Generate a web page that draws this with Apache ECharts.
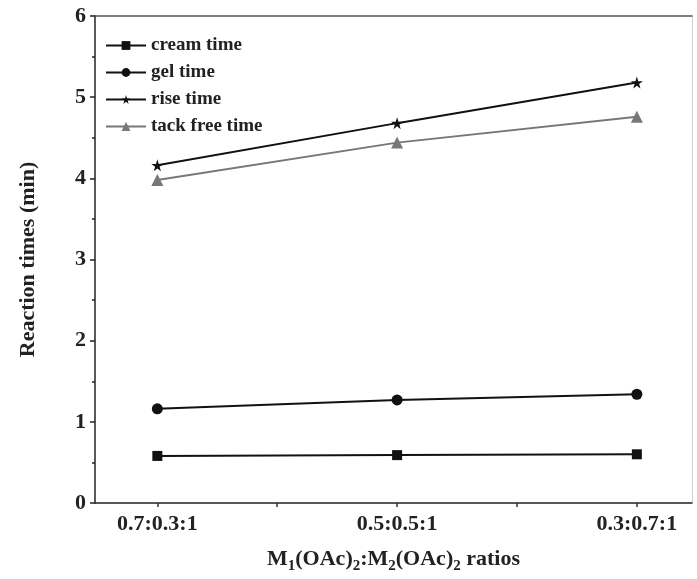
<!DOCTYPE html>
<html>
<head>
<meta charset="utf-8">
<script src="https://cdn.jsdelivr.net/npm/echarts@6/dist/echarts.min.js"></script>
<style>
  html, body { margin: 0; padding: 0; background: #fff; }
  #main { width: 697px; height: 579px; }
</style>
</head>
<body>
<div id="main"></div>
<script>
var ratios = ['0.7:0.3:1', '0.5:0.5:1', '0.3:0.7:1'];
var creamTime = [0.58, 0.59, 0.60];
var gelTime = [1.16, 1.27, 1.34];
var riseTime = [4.16, 4.68, 5.18];
var tackFreeTime = [3.98, 4.44, 4.76];

var star = 'path://M50,0 L61,35 L98,35 L68,57 L79,91 L50,70 L21,91 L32,57 L2,35 L39,35 Z';
var font = '"Liberation Serif", "Times New Roman", serif';

function pts(arr) {
  return arr.map(function (v, i) { return [i, v]; });
}

var chart = echarts.init(document.getElementById('main'));

var option = {
  backgroundColor: '#fff',
  animation: false,
  grid: { left: 95, right: 5, top: 16, bottom: 74 },
  legend: {
    orient: 'vertical',
    left: 100,
    top: 31,
    itemWidth: 40,
    itemHeight: 11,
    itemGap: 8,
    textStyle: { fontFamily: font, fontWeight: 'bold', fontSize: 19, color: '#222' },
    data: ['cream time', 'gel time', 'rise time', 'tack free time']
  },
  xAxis: [{
    type: 'value',
    min: -0.26,
    max: 2.23,
    splitLine: { show: false },
    axisLine: { onZero: false, lineStyle: { color: '#222', width: 1.5 } },
    axisTick: { customValues: [0, 0.5, 1, 1.5, 2], length: 4, lineStyle: { color: '#333', width: 1.5 } },
    axisLabel: {
      customValues: [0, 1, 2],
      formatter: function (v) { return ratios[Math.round(v)]; },
      fontFamily: font, fontWeight: 'bold', fontSize: 22, color: '#222', margin: 10
    },
    name: '{n|M}{s|1}{n|(OAc)}{s|2}{n|:M}{s|2}{n|(OAc)}{s|2}{n| ratios}',
    nameLocation: 'middle',
    nameGap: 42,
    nameTextStyle: {
      rich: {
        n: { fontFamily: font, fontWeight: 'bold', fontSize: 22, color: '#222' },
        s: { fontFamily: font, fontWeight: 'bold', fontSize: 15, color: '#222', padding: [14, 0, 0, 0] }
      }
    }
  }, {
    type: 'value',
    position: 'top',
    min: -0.26,
    max: 2.23,
    splitLine: { show: false },
    axisLine: { onZero: false, lineStyle: { color: '#555', width: 1.5 } },
    axisTick: { show: false },
    axisLabel: { show: false }
  }],
  yAxis: [{
    type: 'value',
    min: 0,
    max: 6,
    interval: 1,
    splitLine: { show: false },
    axisLine: { show: true, onZero: false, lineStyle: { color: '#222', width: 1.5 } },
    axisTick: { show: true, length: 5, lineStyle: { color: '#222', width: 1.5 } },
    minorTick: { show: true, splitNumber: 2, length: 3, lineStyle: { color: '#222', width: 1.5 } },
    axisLabel: { fontFamily: font, fontWeight: 'bold', fontSize: 22, color: '#222', margin: 9 },
    name: 'Reaction times (min)',
    nameLocation: 'middle',
    nameGap: 56,
    nameTextStyle: { fontFamily: font, fontWeight: 'bold', fontSize: 22, color: '#222' }
  }, {
    type: 'value',
    position: 'right',
    min: 0,
    max: 6,
    splitLine: { show: false },
    axisLine: { show: true, onZero: false, lineStyle: { color: '#d0d0d0', width: 1 } },
    axisTick: { show: false },
    axisLabel: { show: false }
  }],
  series: [{
    name: 'cream time',
    type: 'line',
    data: pts(creamTime),
    symbol: 'rect',
    symbolSize: 10,
    itemStyle: { color: '#111' },
    lineStyle: { color: '#111', width: 2 }
  }, {
    name: 'gel time',
    type: 'line',
    data: pts(gelTime),
    symbol: 'circle',
    symbolSize: 11,
    itemStyle: { color: '#111' },
    lineStyle: { color: '#111', width: 2 }
  }, {
    name: 'rise time',
    type: 'line',
    data: pts(riseTime),
    symbol: star,
    symbolSize: 12,
    itemStyle: { color: '#111' },
    lineStyle: { color: '#111', width: 2 }
  }, {
    name: 'tack free time',
    type: 'line',
    data: pts(tackFreeTime),
    symbol: 'triangle',
    symbolSize: 12,
    itemStyle: { color: '#777' },
    lineStyle: { color: '#777', width: 2 }
  }]
};

chart.setOption(option);
</script>
</body>
</html>
